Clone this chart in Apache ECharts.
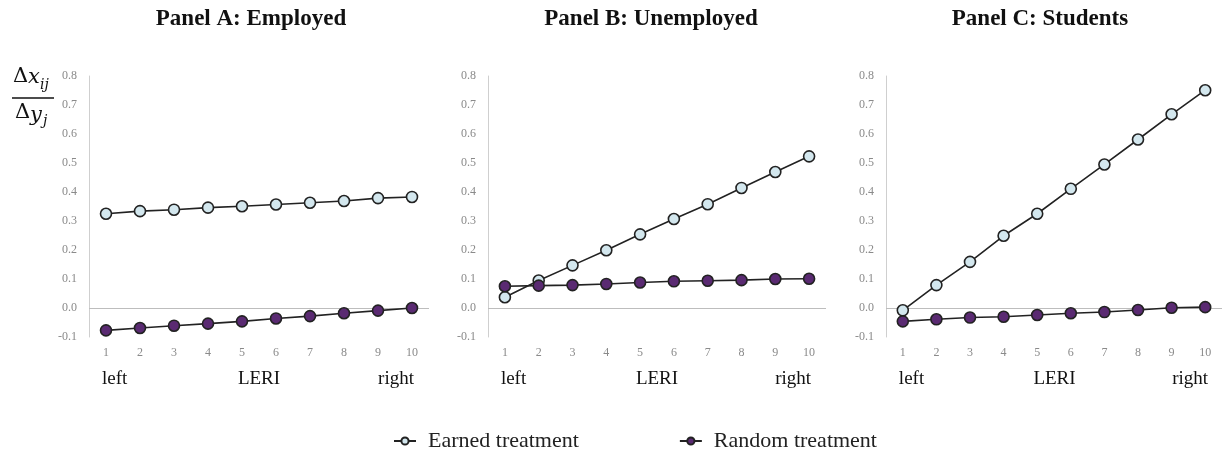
<!DOCTYPE html>
<html><head><meta charset="utf-8">
<script src="https://cdn.jsdelivr.net/npm/echarts@6/dist/echarts.min.js"></script>
<style>html,body{margin:0;padding:0;background:#fff}#c{width:1222px;height:455px}</style>
</head><body><div id="c"></div>
<script>
const categories = ['1','2','3','4','5','6','7','8','9','10'];
const panelTitles = ['Panel A: Employed','Panel B: Unemployed','Panel C: Students'];
const yTicks = {min:-0.1, max:0.8, interval:0.1};
const earnedA = [0.325,0.334,0.339,0.346,0.351,0.357,0.363,0.369,0.379,0.383];
const randomA = [-0.077,-0.069,-0.061,-0.054,-0.046,-0.036,-0.028,-0.018,-0.009,0.0];
const earnedB = [0.037,0.095,0.147,0.199,0.254,0.307,0.358,0.414,0.469,0.523];
const randomB = [0.075,0.077,0.079,0.083,0.088,0.092,0.094,0.096,0.100,0.101];
const earnedC = [-0.008,0.079,0.159,0.249,0.325,0.411,0.495,0.581,0.668,0.751];
const randomC = [-0.046,-0.039,-0.033,-0.030,-0.024,-0.018,-0.014,-0.007,0.001,0.003];
const seriesNames = ['Earned treatment','Random treatment'];
const scaleLabels = ['left','LERI','right'];

const SERIF = '"Liberation Serif","Times New Roman",serif';
const grids = [
  {left:89, top:76, width:340, height:261},
  {left:488, top:76, width:338, height:261},
  {left:886, top:76, width:337, height:261}
];
const earned = [earnedA, earnedB, earnedC];
const random = [randomA, randomB, randomC];
const titleX = [251, 651, 1040];

const xAxis = [], yAxis = [], series = [], graphic = [];
grids.forEach((g, i) => {
  xAxis.push({
    type:'category', gridIndex:i, data:categories, boundaryGap:true,
    axisLine:{show:false, onZero:false}, axisTick:{show:false},
    axisLabel:{color:'#8a8a8a', fontFamily:SERIF, fontSize:12, margin:10},
    splitLine:{show:false}
  });
  yAxis.push({
    type:'value', gridIndex:i, min:yTicks.min, max:yTicks.max, interval:yTicks.interval,
    axisLine:{show:true, lineStyle:{color:'#cfcfcf', width:1}}, axisTick:{show:false},
    splitLine:{show:false},
    axisLabel:{color:'#8a8a8a', fontFamily:SERIF, fontSize:12, margin:12,
      formatter:v => v.toFixed(1)}
  });
  series.push({
    name:seriesNames[0], type:'line', xAxisIndex:i, yAxisIndex:i, data:earned[i],
    symbol:'circle', symbolSize:11, z:3,
    lineStyle:{color:'#222', width:1.6},
    itemStyle:{color:'#d3e7ee', borderColor:'#222', borderWidth:1.6},
    markLine:{silent:true, symbol:'none', label:{show:false},
      lineStyle:{color:'#bdbdbd', type:'solid', width:1}, data:[{yAxis:0}], z:1},
    animation:false
  });
  series.push({
    name:seriesNames[1], type:'line', xAxisIndex:i, yAxisIndex:i, data:random[i],
    symbol:'circle', symbolSize:11, z:4,
    lineStyle:{color:'#222', width:1.6},
    itemStyle:{color:'#5a2a72', borderColor:'#222', borderWidth:1.6},
    animation:false
  });
  graphic.push({type:'text', x:titleX[i], y:19,
    style:{text:panelTitles[i], font:'bold 23px ' + SERIF, fill:'#111',
      textAlign:'center', textVerticalAlign:'middle'}});
  const step = g.width / 10;
  const ly = 379;
  graphic.push({type:'text', x:g.left + step*0.5 - 4, y:ly,
    style:{text:scaleLabels[0], font:'19px ' + SERIF, fill:'#111', textAlign:'left', textVerticalAlign:'middle'}});
  graphic.push({type:'text', x:g.left + step*5, y:ly,
    style:{text:scaleLabels[1], font:'19px ' + SERIF, fill:'#111', textAlign:'center', textVerticalAlign:'middle'}});
  graphic.push({type:'text', x:g.left + step*9.5 + 2, y:ly,
    style:{text:scaleLabels[2], font:'19px ' + SERIF, fill:'#111', textAlign:'right', textVerticalAlign:'middle'}});
});

// y-axis title fraction
graphic.push({type:'text', x:13, y:77, style:{text:'Δ', font:'21px "DejaVu Serif",serif', fill:'#111', textVerticalAlign:'middle'}});
graphic.push({type:'text', x:28, y:78, style:{text:'x', font:'italic 21px "DejaVu Serif",serif', fill:'#111', textVerticalAlign:'middle'}});
graphic.push({type:'text', x:40, y:85, style:{text:'ij', font:'italic 14px "DejaVu Serif",serif', fill:'#111', textVerticalAlign:'middle'}});
graphic.push({type:'line', shape:{x1:12, y1:98, x2:54, y2:98}, style:{stroke:'#111', lineWidth:1.5}});
graphic.push({type:'text', x:15, y:113, style:{text:'Δ', font:'21px "DejaVu Serif",serif', fill:'#111', textVerticalAlign:'middle'}});
graphic.push({type:'text', x:30, y:116, style:{text:'y', font:'italic 21px "DejaVu Serif",serif', fill:'#111', textVerticalAlign:'middle'}});
graphic.push({type:'text', x:43, y:121, style:{text:'j', font:'italic 14px "DejaVu Serif",serif', fill:'#111', textVerticalAlign:'middle'}});

const chart = echarts.init(document.getElementById('c'), null, {renderer:'canvas'});
chart.setOption({
  animation:false,
  backgroundColor:'#fff',
  grid:grids,
  xAxis, yAxis, series, graphic,
  legend:{
    data:seriesNames, top:425, left:388, itemGap:100,
    itemWidth:22, itemHeight:9,
    textStyle:{fontFamily:SERIF, fontSize:22, color:'#222', padding:[0,0,0,7]}
  }
});
</script></body></html>
